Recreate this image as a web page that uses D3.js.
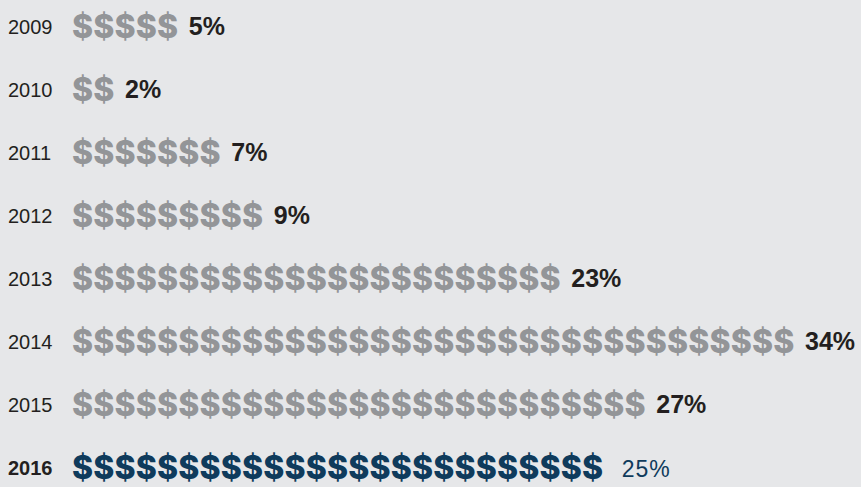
<!DOCTYPE html>
<html>
<head>
<meta charset="utf-8">
<script src="https://cdn.jsdelivr.net/npm/d3@7"></script>
<style>
  html, body { margin: 0; padding: 0; background: #e6e7e9; }
  svg { display: block; }
</style>
</head>
<body>
<svg id="chart" width="861" height="487"></svg>
<script>
const years = ["2009", "2010", "2011", "2012", "2013", "2014", "2015", "2016"];
const values = [5, 2, 7, 9, 23, 34, 27, 25];
const labels = ["5%", "2%", "7%", "9%", "23%", "34%", "27%", "25%"];
const highlightYear = "2016";

const grey = "#939598";
const blue = "#0f3b5c";
const dark = "#231f20";

const svg = d3.select("#chart");
svg.append("rect").attr("width", 861).attr("height", 487).attr("fill", "#e6e7e9");

const y = d3.scalePoint().domain(years).range([27, 468]);
const x = d3.scaleLinear().domain([0, 34]).range([72.5, 72.5 + 34 * 21.25]);

const rows = years.map((yr, i) => ({ year: yr, value: values[i], label: labels[i], hl: yr === highlightYear }));

const g = svg.selectAll("g.row").data(rows).join("g").attr("class", "row")
  .attr("transform", d => `translate(0,${y(d.year)})`);

g.append("text")
  .attr("x", 8).attr("y", 7)
  .attr("font-family", "Liberation Sans, Arial, sans-serif")
  .attr("font-size", 20)
  .attr("font-weight", d => d.hl ? "bold" : "normal")
  .attr("fill", dark)
  .text(d => d.year);

g.each(function(d) {
  d3.select(this).selectAll("text.sign").data(d3.range(d.value)).join("text")
    .attr("class", "sign")
    .attr("x", i => x(i) - 0.5)
    .attr("y", 10.5)
    .attr("font-family", "Inter, sans-serif")
    .attr("font-weight", 800)
    .attr("font-size", 32)
    .attr("fill", d.hl ? blue : grey)
    .text("$");
});

g.append("text")
  .attr("x", d => x(d.value) + (d.hl ? 18 : 10))
  .attr("y", d => d.hl ? 9 : 8)
  .attr("font-family", "Liberation Sans, Arial, sans-serif")
  .attr("font-size", d => d.hl ? 23 : 25)
  .attr("letter-spacing", d => d.hl ? 1 : 0)
  .attr("font-weight", d => d.hl ? "normal" : "bold")
  .attr("fill", d => d.hl ? blue : dark)
  .text(d => d.label);
</script>
</body>
</html>
